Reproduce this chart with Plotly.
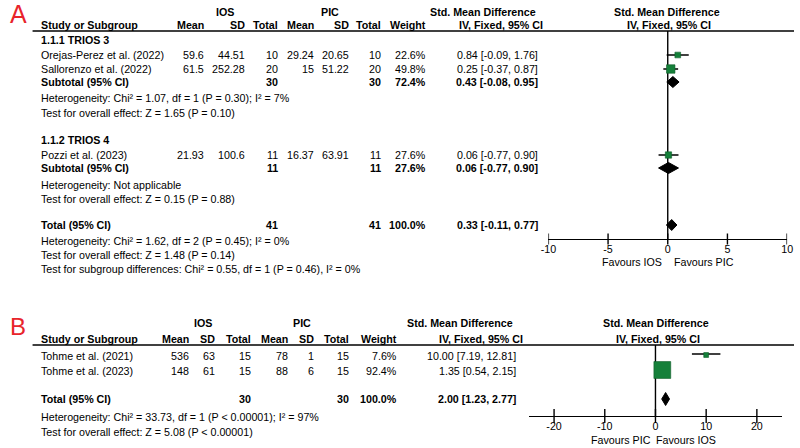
import plotly.graph_objects as go

# ---------------- Data: panel A ----------------
A_groups = ["1.1.1 TRIOS 3", "1.1.2 TRIOS 4"]
A_studies = ["Orejas-Perez et al. (2022)", "Sallorenzo et al. (2022)", "Pozzi et al. (2023)"]
A_ios_mean = [59.6, 61.5, 21.93]
A_ios_sd = [44.51, 252.28, 100.6]
A_ios_n = [10, 20, 11]
A_pic_mean = [29.24, 15, 16.37]
A_pic_sd = [20.65, 51.22, 63.91]
A_pic_n = [10, 20, 11]
A_weight = [22.6, 49.8, 27.6]
A_smd = [0.84, 0.25, 0.06]
A_lo = [-0.09, -0.37, -0.77]
A_hi = [1.76, 0.87, 0.90]

A_sub_ios_n = [30, 11]
A_sub_pic_n = [30, 11]
A_sub_weight = [72.4, 27.6]
A_sub_smd = [0.43, 0.06]
A_sub_lo = [-0.08, -0.77]
A_sub_hi = [0.95, 0.90]
A_sub_het = ["Heterogeneity: Chi\u00b2 = 1.07, df = 1 (P = 0.30); I\u00b2 = 7%",
             "Heterogeneity: Not applicable"]
A_sub_test = ["Test for overall effect: Z = 1.65 (P = 0.10)",
              "Test for overall effect: Z = 0.15 (P = 0.88)"]

A_tot_ios_n = 41
A_tot_pic_n = 41
A_tot_weight = 100.0
A_tot_smd, A_tot_lo, A_tot_hi = 0.33, -0.11, 0.77
A_tot_notes = ["Heterogeneity: Chi\u00b2 = 1.62, df = 2 (P = 0.45); I\u00b2 = 0%",
               "Test for overall effect: Z = 1.48 (P = 0.14)",
               "Test for subgroup differences: Chi\u00b2 = 0.55, df = 1 (P = 0.46), I\u00b2 = 0%"]
A_ticks = [-10, -5, 0, 5, 10]
A_favours = ["Favours IOS", "Favours PIC"]

# ---------------- Data: panel B ----------------
B_studies = ["Tohme et al. (2021)", "Tohme et al. (2023)"]
B_ios_mean = [536, 148]
B_ios_sd = [63, 61]
B_ios_n = [15, 15]
B_pic_mean = [78, 88]
B_pic_sd = [1, 6]
B_pic_n = [15, 15]
B_weight = [7.6, 92.4]
B_smd = [10.00, 1.35]
B_lo = [7.19, 0.54]
B_hi = [12.81, 2.15]
B_tot_ios_n = 30
B_tot_pic_n = 30
B_tot_weight = 100.0
B_tot_smd, B_tot_lo, B_tot_hi = 2.00, 1.23, 2.77
B_tot_notes = ["Heterogeneity: Chi\u00b2 = 33.73, df = 1 (P < 0.00001); I\u00b2 = 97%",
               "Test for overall effect: Z = 5.08 (P < 0.00001)"]
B_ticks = [-20, -10, 0, 10, 20]
B_favours = ["Favours PIC", "Favours IOS"]

# ---------------- Styling ----------------
W, H = 800, 448
FONT = "Liberation Sans, Arial, Helvetica, sans-serif"
FS = 10.7
GREEN = "#15803a"
RED = "#e8242b"

fig = go.Figure()
ann = []


def txt(x, y, s, anchor="left", bold=False, size=FS, color="black"):
    ann.append(dict(x=x / W, y=1 - y / H, xref="paper", yref="paper",
                    text=("<b>%s</b>" % s) if bold else s,
                    showarrow=False, xanchor=anchor, yanchor="middle", borderpad=0,
                    font=dict(family=FONT, size=size, color=color)))


def ci(s, l, h):
    return "%.2f [%.2f, %.2f]" % (s, l, h)


def num(v):
    return "%g" % v


def diamond(xa, est, lo, hi, y, h, name):
    fig.add_trace(go.Scatter(x=[lo, est, hi, est, lo], y=[y, y - h, y, y + h, y],
                             xaxis=xa, yaxis="y", mode="lines", fill="toself",
                             fillcolor="black", line=dict(color="black", width=1),
                             hoverinfo="skip", showlegend=False, name=name))


# ================= Panel A =================
txt(1, 14, "A", size=25, color=RED)
colA = dict(im=200, isd=242, itot=276, pm=312, psd=348, ptot=381, w=426, ci=540)
yA_h1, yA_h2, yA_line = 12, 25, 31
txt(221, yA_h1, "IOS", "center", True)
txt(328, yA_h1, "PIC", "center", True)
txt(483, yA_h1, "Std. Mean Difference", "center", True)
txt(671, yA_h1, "Std. Mean Difference", "center", True)
txt(33, yA_h2, "Study or Subgroup", "left", True)
for k, s in [("im", "Mean"), ("isd", "SD"), ("itot", "Total"), ("pm", "Mean"), ("psd", "SD"),
             ("ptot", "Total"), ("w", "Weight")]:
    txt(colA[k], yA_h2, s, "right", True)
txt(502, yA_h2, "IV, Fixed, 95% CI", "center", True)
txt(673, yA_h2, "IV, Fixed, 95% CI", "center", True)

yA_group = [40, 140]
yA_study = [55, 69, 155]
yA_sub = [82, 168]
yA_het = [98, 185]
yA_test = [113, 199]
yA_tot = 225
yA_notes = [241, 255, 269]
yA_axis = 239

for g, name in enumerate(A_groups):
    txt(33, yA_group[g], name, "left", True)
for i, s in enumerate(A_studies):
    y = yA_study[i]
    txt(33, y, s)
    txt(colA["im"], y, num(A_ios_mean[i]), "right")
    txt(colA["isd"], y, num(A_ios_sd[i]), "right")
    txt(colA["itot"], y, str(A_ios_n[i]), "right")
    txt(colA["pm"], y, num(A_pic_mean[i]), "right")
    txt(colA["psd"], y, num(A_pic_sd[i]), "right")
    txt(colA["ptot"], y, str(A_pic_n[i]), "right")
    txt(colA["w"], y, "%.1f%%" % A_weight[i], "right")
    txt(colA["ci"], y, ci(A_smd[i], A_lo[i], A_hi[i]), "right")
for g in range(len(A_groups)):
    y = yA_sub[g]
    txt(33, y, "Subtotal (95% CI)", "left", True)
    txt(colA["itot"], y, str(A_sub_ios_n[g]), "right", True)
    txt(colA["ptot"], y, str(A_sub_pic_n[g]), "right", True)
    txt(colA["w"], y, "%.1f%%" % A_sub_weight[g], "right", True)
    txt(colA["ci"], y, ci(A_sub_smd[g], A_sub_lo[g], A_sub_hi[g]), "right", True)
    txt(33, yA_het[g], A_sub_het[g])
    txt(33, yA_test[g], A_sub_test[g])
txt(33, yA_tot, "Total (95% CI)", "left", True)
txt(colA["itot"], yA_tot, str(A_tot_ios_n), "right", True)
txt(colA["ptot"], yA_tot, str(A_tot_pic_n), "right", True)
txt(colA["w"], yA_tot, "%.1f%%" % A_tot_weight, "right", True)
txt(colA["ci"], yA_tot, ci(A_tot_smd, A_tot_lo, A_tot_hi), "right", True)
for j, s in enumerate(A_tot_notes):
    txt(33, yA_notes[j], s)
txt(667, 262, A_favours[0], "right")
txt(677, 262, A_favours[1], "left")

# forest A
fig.add_trace(go.Scatter(x=[0, 0], y=[yA_line, yA_axis], xaxis="x2", yaxis="y", mode="lines",
                         line=dict(color="black", width=1.4), hoverinfo="skip", showlegend=False))
cx, cy = [], []
for i in range(len(A_studies)):
    cx += [A_lo[i], A_hi[i], None]
    cy += [yA_study[i], yA_study[i], None]
fig.add_trace(go.Scatter(x=cx, y=cy, xaxis="x2", yaxis="y", mode="lines",
                         line=dict(color="black", width=1.3), hoverinfo="skip", showlegend=False))
fig.add_trace(go.Scatter(x=A_smd, y=yA_study, xaxis="x2", yaxis="y", mode="markers", opacity=1,
                         marker=dict(symbol="square", color=GREEN, opacity=1,
                                     size=[1.2 * w ** 0.5 for w in A_weight],
                                     line=dict(color="#0e5c28", width=0.6)),
                         hoverinfo="skip", showlegend=False))
for g in range(len(A_groups)):
    diamond("x2", A_sub_smd[g], A_sub_lo[g], A_sub_hi[g], yA_sub[g], 5.5, A_groups[g])
diamond("x2", A_tot_smd, A_tot_lo, A_tot_hi, yA_tot, 5.5, "Total A")
fig.add_trace(go.Scatter(x=A_ticks, y=[yA_axis] * len(A_ticks), xaxis="x2", yaxis="y", mode="markers",
                         marker=dict(symbol="line-ns", size=8, line=dict(color="black", width=1.4)),
                         hoverinfo="skip", showlegend=False))

# ================= Panel B =================
txt(1, 326, "B", size=24, color=RED)
colB = dict(im=185, isd=212, itot=248, pm=286, psd=312, ptot=348, w=397, ci=518)
yB_h1, yB_h2, yB_line = 323, 339, 345
txt(198, yB_h1, "IOS", "center", True)
txt(299, yB_h1, "PIC", "center", True)
txt(460, yB_h1, "Std. Mean Difference", "center", True)
txt(660, yB_h1, "Std. Mean Difference", "center", True)
txt(33, yB_h2, "Study or Subgroup", "left", True)
for k, s in [("im", "Mean"), ("isd", "SD"), ("itot", "Total"), ("pm", "Mean"), ("psd", "SD"),
             ("ptot", "Total"), ("w", "Weight")]:
    txt(colB[k], yB_h2, s, "right", True)
txt(481, yB_h2, "IV, Fixed, 95% CI", "center", True)
txt(662, yB_h2, "IV, Fixed, 95% CI", "center", True)

yB_study = [356, 371]
yB_tot = 399
yB_notes = [417, 432]
yB_axis = 416
for i, s in enumerate(B_studies):
    y = yB_study[i]
    txt(33, y, s)
    txt(colB["im"], y, num(B_ios_mean[i]), "right")
    txt(colB["isd"], y, num(B_ios_sd[i]), "right")
    txt(colB["itot"], y, str(B_ios_n[i]), "right")
    txt(colB["pm"], y, num(B_pic_mean[i]), "right")
    txt(colB["psd"], y, num(B_pic_sd[i]), "right")
    txt(colB["ptot"], y, str(B_pic_n[i]), "right")
    txt(colB["w"], y, "%.1f%%" % B_weight[i], "right")
    txt(colB["ci"], y, ci(B_smd[i], B_lo[i], B_hi[i]), "right")
txt(33, yB_tot, "Total (95% CI)", "left", True)
txt(colB["itot"], yB_tot, str(B_tot_ios_n), "right", True)
txt(colB["ptot"], yB_tot, str(B_tot_pic_n), "right", True)
txt(colB["w"], yB_tot, "%.1f%%" % B_tot_weight, "right", True)
txt(colB["ci"], yB_tot, ci(B_tot_smd, B_tot_lo, B_tot_hi), "right", True)
for j, s in enumerate(B_tot_notes):
    txt(33, yB_notes[j], s)
txt(655, 440, B_favours[0], "right")
txt(659, 440, B_favours[1], "left")

fig.add_trace(go.Scatter(x=[0, 0], y=[yB_line, yB_axis], xaxis="x3", yaxis="y", mode="lines",
                         line=dict(color="black", width=1.4), hoverinfo="skip", showlegend=False))
cx, cy = [], []
for i in range(len(B_studies)):
    cx += [B_lo[i], B_hi[i], None]
    cy += [yB_study[i] - 2, yB_study[i] - 2, None]
fig.add_trace(go.Scatter(x=cx, y=cy, xaxis="x3", yaxis="y", mode="lines",
                         line=dict(color="black", width=1.3), hoverinfo="skip", showlegend=False))
fig.add_trace(go.Scatter(x=B_smd, y=[y - 1 for y in yB_study], xaxis="x3", yaxis="y", mode="markers",
                         opacity=1,
                         marker=dict(symbol="square", color=GREEN, opacity=1,
                                     size=[1.75 * w ** 0.5 for w in B_weight],
                                     line=dict(color="#0e5c28", width=0.6)),
                         hoverinfo="skip", showlegend=False))
diamond("x3", B_tot_smd, B_tot_lo, B_tot_hi, yB_tot, 6.5, "Total B")
fig.add_trace(go.Scatter(x=B_ticks, y=[yB_axis] * len(B_ticks), xaxis="x3", yaxis="y", mode="markers",
                         marker=dict(symbol="line-ns", size=10, line=dict(color="black", width=1.4)),
                         hoverinfo="skip", showlegend=False))

# header lines
shapes = [dict(type="line", xref="paper", yref="paper", x0=25 / W, x1=1, y0=1 - yA_line / H,
               y1=1 - yA_line / H, line=dict(color="black", width=1.5)),
          dict(type="line", xref="paper", yref="paper", x0=25 / W, x1=1, y0=1 - yB_line / H,
               y1=1 - yB_line / H, line=dict(color="black", width=1.5))]

axis_common = dict(showgrid=False, zeroline=False, showline=True, linecolor="black", linewidth=1.4,
                   ticks="", tickfont=dict(family=FONT, size=FS, color="black"),
                   anchor="free", fixedrange=True)

fig.update_layout(
    width=W, height=H, margin=dict(l=0, r=0, t=0, b=0, pad=0),
    paper_bgcolor="white", plot_bgcolor="rgba(0,0,0,0)",
    showlegend=False,
    xaxis=dict(domain=[0, 1], range=[0, W], visible=False, fixedrange=True),
    yaxis=dict(domain=[0, 1], range=[H, 0], visible=False, fixedrange=True),
    xaxis2=dict(domain=[550 / W, 793 / W], range=[-10, 10], tickvals=A_ticks,
                ticktext=[str(t) for t in A_ticks],
                position=1 - yA_axis / H, **axis_common),
    xaxis3=dict(domain=[530 / W, 788 / W], range=[-25, 25], tickvals=B_ticks,
                ticktext=[str(t) for t in B_ticks],
                position=1 - yB_axis / H, **axis_common),
    annotations=ann, shapes=shapes,
)

fig.write_html("out.html")
